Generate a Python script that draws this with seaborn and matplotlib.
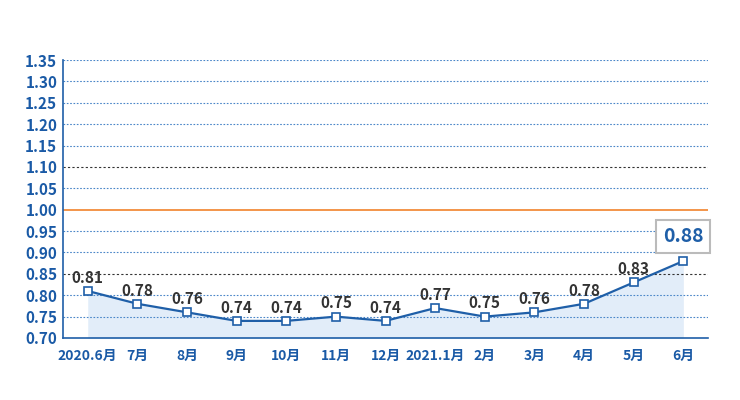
import matplotlib
matplotlib.use("Agg")
import matplotlib.pyplot as plt
import seaborn as sns
import pandas as pd
import numpy as np

months = ["2020.6月", "7月", "8月", "9月", "10月", "11月", "12月",
          "2021.1月", "2月", "3月", "4月", "5月", "6月"]
values = [0.81, 0.78, 0.76, 0.74, 0.74, 0.75, 0.74, 0.77, 0.75, 0.76, 0.78, 0.83, 0.88]
yticks = [0.70, 0.75, 0.80, 0.85, 0.90, 0.95, 1.00, 1.05, 1.10, 1.15, 1.20, 1.25, 1.30, 1.35]

df = pd.DataFrame({"pos": range(len(months)), "month": months, "value": values})

sns.set_style("white")
plt.rcParams['font.family'] = ['Liberation Sans Narrow', 'Noto Sans CJK SC', 'DejaVu Sans']

blue = "#1f5fa8"
tick_blue = "#1a5aa6"

fig = plt.figure(figsize=(7.4, 4.0), dpi=100)
ax = fig.add_axes([0.085, 0.155, 0.872, 0.695])

# grid lines
for y in yticks[1:]:
    if abs(y - 1.0) < 1e-9:
        ax.axhline(y, color="#f28c3c", lw=1.3, zorder=1)
    elif abs(y - 0.85) < 1e-9 or abs(y - 1.10) < 1e-9:
        ax.axhline(y, color="#333333", lw=0.8, ls=(0, (2, 2)), zorder=1)
    else:
        ax.axhline(y, color="#4a86c8", lw=0.8, ls=(0, (1.5, 1.5)), zorder=1)

ax.fill_between(df["pos"], df["value"], 0.70, color="#cfe2f5", alpha=0.6, zorder=0, lw=0)

sns.lineplot(data=df, x="pos", y="value", ax=ax, color=blue, lw=1.6,
             marker="s", markersize=5.5, markerfacecolor="white",
             markeredgecolor=blue, markeredgewidth=1.2, zorder=3)

for i, v in enumerate(values[:-1]):
    ax.text(i, v + 0.012, f"{v:.2f}", ha="center", va="bottom",
            fontsize=11, fontweight="semibold", color="#333333", zorder=4)
ax.text(len(values) - 1, values[-1] + 0.058, f"{values[-1]:.2f}", ha="center",
        va="center", fontsize=14, fontweight="bold", color=blue, zorder=4,
        bbox=dict(boxstyle="square,pad=0.35", fc="white", ec="#bbbbbb", lw=1.5))

ax.set_xlim(-0.5, len(months) - 0.5)
ax.set_ylim(0.70, 1.35)
ax.set_yticks(yticks)
ax.set_yticklabels([f"{y:.2f}" for y in yticks], fontsize=11, fontweight="bold", color=tick_blue)
ax.set_xticks(range(len(months)))
ax.set_xticklabels(months, fontsize=10, fontweight="bold", color=tick_blue)
ax.tick_params(axis="x", direction="in", length=5, color="#6b9bd2", pad=8)
ax.tick_params(axis="y", length=0, pad=4)
ax.set_xlabel("")
ax.set_ylabel("")

for side in ["top", "right"]:
    ax.spines[side].set_visible(False)
ax.spines["left"].set_color(blue)
ax.spines["bottom"].set_color(blue)
ax.spines["left"].set_linewidth(1.2)
ax.spines["bottom"].set_linewidth(1.2)

fig.savefig("out.png", dpi=100)
